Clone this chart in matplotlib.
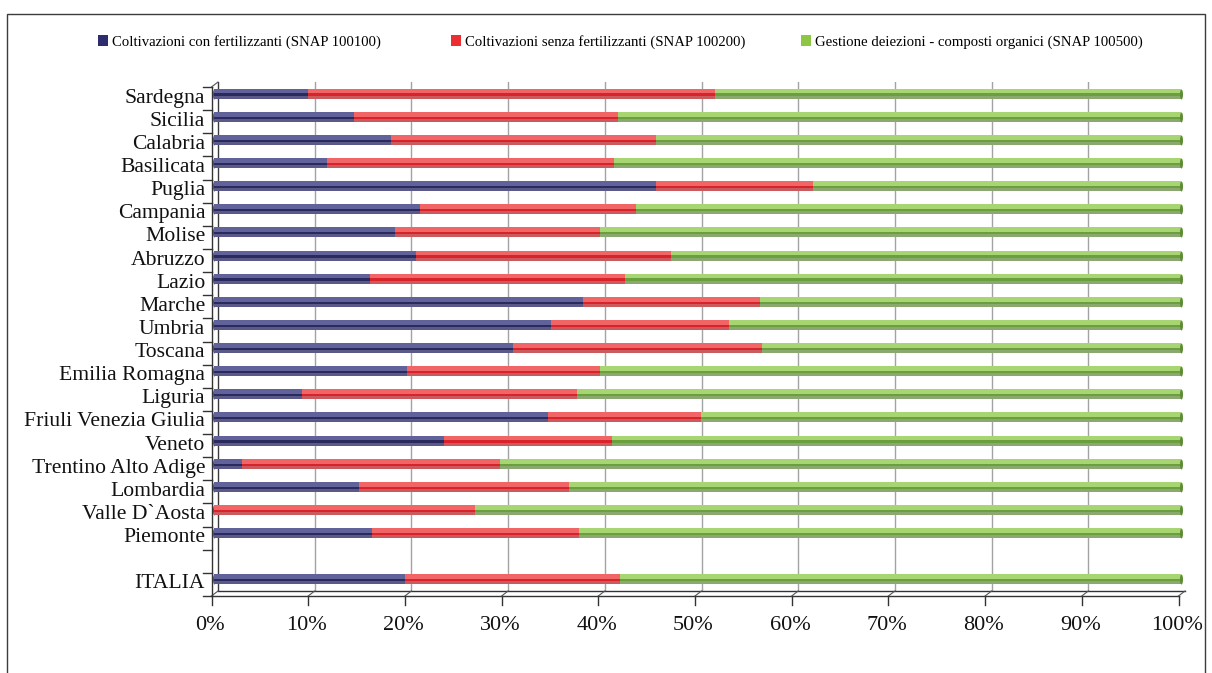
import matplotlib
matplotlib.use("Agg")
import matplotlib.pyplot as plt
import numpy as np
from matplotlib.transforms import ScaledTranslation, IdentityTransform, Affine2D
from matplotlib.lines import Line2D
from matplotlib.patches import Rectangle, Patch
from matplotlib.path import Path

plt.rcParams['font.family'] = ['Liberation Serif', 'DejaVu Serif']

# ---------------- data (percent shares) ----------------
regions = ["Sardegna", "Sicilia", "Calabria", "Basilicata", "Puglia", "Campania",
           "Molise", "Abruzzo", "Lazio", "Marche", "Umbria", "Toscana",
           "Emilia Romagna", "Liguria", "Friuli Venezia Giulia", "Veneto",
           "Trentino Alto Adige", "Lombardia", "Valle D`Aosta", "Piemonte"]
total_label = "ITALIA"

series_names = ["Coltivazioni con fertilizzanti (SNAP 100100)",
                "Coltivazioni senza fertilizzanti (SNAP 100200)",
                "Gestione deiezioni - composti organici (SNAP 100500)"]

con_fert = [9.8, 14.5, 18.4, 11.7, 45.8, 21.4, 18.8, 20.9, 16.2, 38.2,
            34.9, 31.0, 20.0, 9.2, 34.6, 23.8, 2.9, 15.0, 0.1, 16.4]
senza_fert = [42.1, 27.3, 27.4, 29.7, 16.2, 22.3, 21.2, 26.4, 26.4, 18.3,
              18.4, 25.7, 20.0, 28.4, 15.8, 17.4, 26.7, 21.8, 26.9, 21.4]
deiezioni = [48.1, 58.2, 54.2, 58.6, 38.0, 56.3, 60.0, 52.7, 57.4, 43.5,
             46.7, 43.3, 60.0, 62.4, 49.6, 58.8, 70.4, 63.2, 73.0, 62.2]
italia = [19.8, 22.2, 58.0]

x_ticks = [0, 10, 20, 30, 40, 50, 60, 70, 80, 90, 100]
x_tick_labels = [f"{v}%" for v in x_ticks]

# ---------------- figure ----------------
W, H = 1212, 673
fig = plt.figure(figsize=(W / 100, H / 100), dpi=100)
fig.patch.set_facecolor("white")

ax_left, ax_right = 213.5, 1180.5
ax_top, ax_bot = 82, 591
ax = fig.add_axes([ax_left / W, (H - ax_bot) / H,
                   (ax_right - ax_left) / W, (ax_bot - ax_top) / H])
ax.set_xlim(0, 100)
n_slots = len(regions) + 2
ax.set_ylim(-0.5, n_slots - 0.5)
for s in ax.spines.values():
    s.set_visible(False)

# positions: regions top to bottom, empty slot, then ITALIA at the bottom
ypos = [n_slots - 1 - i for i in range(len(regions))] + [0]
cats = regions + [total_label]
vals = np.array([con_fert + [italia[0]],
                 senza_fert + [italia[1]],
                 deiezioni + [italia[2]]])
ypos = np.array(ypos, dtype=float)

# colours: (bottom/base, top highlight, dark stripe)
shades = [("#5a5987", "#62629a", "#2b2a5f"),
          ("#c95b5e", "#f26566", "#d8232a"),
          ("#8aa870", "#a6d572", "#6b9f3d")]
legend_cols = ["#2d2c6c", "#ec2e32", "#8dc641"]

unit = (ax_bot - ax_top) / n_slots  # px per category
bar_px = 10.0
h_all = bar_px / unit
top_h = 4.8 / unit
stripe_h = 2.2 / unit

left = np.zeros(len(cats))
for k in range(3):
    base, top, stripe = shades[k]
    w = vals[k]
    ax.barh(ypos, w, height=h_all, left=left, color=base, linewidth=0, zorder=3)
    ax.barh(ypos + h_all / 2 - top_h / 2, w, height=top_h, left=left,
            color=top, linewidth=0, zorder=4)
    ax.barh(ypos + h_all / 2 - top_h - stripe_h / 2, w, height=stripe_h,
            left=left, color=stripe, linewidth=0, zorder=5)
    left = left + w

# rounded end caps of the cylinders
cap = Path(Affine2D().scale(0.3, 1.0).transform(Path.unit_circle().vertices),
           Path.unit_circle().codes)
ax.scatter(left, ypos, marker=cap, s=(bar_px * 0.72) ** 2, color="#5d8c34",
           linewidths=0, zorder=6, clip_on=False)
ax.scatter(np.zeros(len(cats)), ypos, marker=cap, s=(bar_px * 0.72) ** 2,
           color="#50507e", linewidths=0, zorder=2, clip_on=False)

# ---------------- pseudo-3D frame ----------------
back_dx, back_dy = 4.5, 0.0
front_dx, front_dy = -2.0, -5.0

def disp(xd, ya, dx, dy):
    p = ax.get_xaxis_transform().transform((xd, ya))
    return p[0] + dx, p[1] + dy

def dispy(xa, yd, dx, dy):
    p = ax.get_yaxis_transform().transform((xa, yd))
    return p[0] + dx, p[1] + dy

def line(p1, p2, color="#333333", lw=1.0, z=1):
    fig.add_artist(Line2D([p1[0], p2[0]], [p1[1], p2[1]], color=color, lw=lw,
                          transform=IdentityTransform(), zorder=z))

# back wall gridlines
for v in x_ticks:
    col = "#3a3a3a" if v in (0, 100) else "#a3a3a3"
    b0 = disp(v, 0, back_dx, back_dy)
    b1 = disp(v, 1, back_dx, back_dy)
    ax.add_artist(Line2D([b0[0], b1[0]], [b0[1], b1[1]], color=col, lw=1.0,
                         transform=IdentityTransform(), zorder=1))

# floor: back line, front line, diagonals, tick marks
line(disp(0, 0, back_dx, back_dy), disp(100, 0, back_dx, back_dy))
line(disp(0, 0, front_dx, front_dy), disp(100, 0, front_dx, front_dy))
for v in x_ticks:
    line(disp(v, 0, front_dx, front_dy), disp(v, 0, back_dx, back_dy), color="#555555", lw=0.8)
    line(disp(v, 0, front_dx, front_dy), disp(v, 0, front_dx, front_dy - 8.5))

# left front axis with category boundary ticks
y_lo, y_hi = -0.5, n_slots - 0.5
line(dispy(0, y_lo, front_dx, front_dy), dispy(0, y_hi, front_dx, front_dy))
line(dispy(0, y_hi, front_dx, front_dy), dispy(0, y_hi, back_dx, back_dy), color="#555555", lw=0.8)
for b in np.arange(y_lo, y_hi + 0.01, 1.0):
    p = dispy(0, b, front_dx, front_dy)
    line(p, (p[0] - 9, p[1]))

# ---------------- ticks and labels ----------------
ax.set_yticks(ypos, labels=cats)
ax.set_xticks(x_ticks, labels=x_tick_labels)
ax.tick_params(axis="y", length=0, pad=6, labelsize=15.6, labelcolor="#111111")
ax.tick_params(axis="x", length=0, pad=18, labelsize=16, labelcolor="#111111")
for lbl in ax.get_yticklabels():
    lbl.set_transform(lbl.get_transform() + ScaledTranslation(0, -2 / 100, fig.dpi_scale_trans))
for lbl in ax.get_xticklabels():
    lbl.set_transform(lbl.get_transform() + ScaledTranslation((front_dx - 1.5) / 100, 0, fig.dpi_scale_trans))

# ---------------- legend ----------------
leg_x = [98, 451, 801]
for k in range(3):
    lg = fig.legend(handles=[Patch(facecolor=legend_cols[k], edgecolor="none")],
                    labels=[series_names[k]], loc="center left",
                    bbox_to_anchor=(leg_x[k] / W, 1 - 42 / H), frameon=False,
                    fontsize=10.6, handlelength=0.7, handleheight=0.7,
                    handletextpad=0.25, borderpad=0, borderaxespad=0)

# outer frame
fig.add_artist(Rectangle((7, -10), 1198, H - 7 + 10 - 7, fill=False,
                         edgecolor="#3c3c3c", lw=1.0, transform=IdentityTransform()))

fig.savefig("out.png", dpi=100, facecolor="white")
